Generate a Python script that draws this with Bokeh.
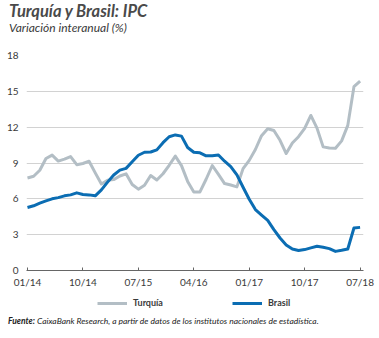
from bokeh.plotting import figure
from bokeh.layouts import column
from bokeh.models import (Range1d, FixedTicker, Legend, LegendItem, Div)
from bokeh.embed import file_html
from bokeh.resources import INLINE

# ---- data (monthly, 01/2014 .. 07/2018) ----
turquia = [7.75, 7.89, 8.39, 9.38, 9.66, 9.16, 9.32, 9.54, 8.86, 8.96, 9.15, 8.17,
           7.24, 7.55, 7.61, 7.91, 8.09, 7.20, 6.81, 7.14, 7.95, 7.58, 8.10, 8.81,
           9.58, 8.78, 7.46, 6.57, 6.58, 7.64, 8.79, 8.05, 7.28, 7.16, 7.00, 8.53,
           9.22, 10.13, 11.29, 11.87, 11.72, 10.90, 9.79, 10.68, 11.20, 11.90, 12.98, 11.92,
           10.35, 10.26, 10.23, 10.85, 12.15, 15.39, 15.85]
brasil = [5.28, 5.42, 5.64, 5.83, 6.00, 6.10, 6.25, 6.33, 6.50, 6.36, 6.33, 6.25,
          6.75, 7.40, 8.00, 8.40, 8.55, 9.10, 9.65, 9.90, 9.92, 10.10, 10.70, 11.20,
          11.35, 11.25, 10.30, 9.90, 9.85, 9.60, 9.60, 9.67, 9.15, 8.70, 8.00, 6.97,
          5.97, 5.10, 4.64, 4.20, 3.42, 2.72, 2.14, 1.80, 1.67, 1.75, 1.89, 2.03,
          1.94, 1.83, 1.60, 1.69, 1.80, 3.56, 3.61]
meses = list(range(len(turquia)))
x_ticks = [0, 9, 18, 27, 36, 45, 54]
x_tick_labels = ["01/14", "10/14", "07/15", "04/16", "01/17", "10/17", "07/18"]
y_ticks = [0, 3, 6, 9, 12, 15, 18]
series_names = ["Turquía", "Brasil"]

titulo = "Turquía y Brasil: IPC"
subtitulo = "Variación interanual (%)"
fuente_bold = "Fuente:"
fuente_text = "CaixaBank Research, a partir de datos de los institutos nacionales de estadística."

FONT = "Lato"
GRAY = "#b3bec5"
BLUE = "#0b6db3"
TXT = "#3a3a3a"

W = 379
TOP_H, MAIN_H, LEG_H, SRC_H = 45, 245, 22, 26
FL, FR = 26, 16
FRAME_TOP, FRAME_BOTTOM = 55, 271

# ---- header (title + subtitle) ----
header_html = (
    f'<div style="font-family:{FONT}; padding:1.85px 0 0 9px; margin:0;">'
    f'<div style="font-size:16.5px; line-height:1.1; height:18.15px; font-weight:bold; '
    f'font-style:italic; color:#4a4a4a; white-space:nowrap;">{titulo}</div>'
    f'<div style="font-size:12px; line-height:1; font-style:italic; color:#3a3a3a; '
    f'margin-top:2.2px; white-space:nowrap;">{subtitulo}</div></div>'
)
header = Div(text=header_html, width=W, height=TOP_H, margin=0, disable_math=True)

# ---- main chart ----
p = figure(width=W, height=MAIN_H, output_backend="svg", toolbar_location=None,
           x_range=Range1d(-0.16, 54.55), y_range=Range1d(0, 18),
           min_border_left=FL, min_border_right=FR,
           min_border_top=FRAME_TOP - TOP_H,
           min_border_bottom=TOP_H + MAIN_H - FRAME_BOTTOM)
p.outline_line_color = None
p.background_fill_color = "white"
p.border_fill_color = "white"

p.line(meses, turquia, line_color=GRAY, line_width=3, line_join="round")
p.line(meses, brasil, line_color=BLUE, line_width=3, line_join="round")

p.xaxis.ticker = FixedTicker(ticks=x_ticks)
p.xaxis.major_label_overrides = {t: l for t, l in zip(x_ticks, x_tick_labels)}
p.xaxis.axis_line_color = "#666666"
p.xaxis.axis_line_width = 1
p.xaxis.major_tick_line_color = "#666666"
p.xaxis.major_tick_in = 3
p.xaxis.major_tick_out = 0
p.xaxis.minor_tick_line_color = None
p.xaxis.major_label_standoff = 5
p.xaxis.major_label_text_font = FONT
p.xaxis.major_label_text_font_size = "10px"
p.xaxis.major_label_text_color = TXT

p.yaxis.ticker = FixedTicker(ticks=y_ticks)
p.yaxis.axis_line_color = None
p.yaxis.major_tick_line_color = None
p.yaxis.minor_tick_line_color = None
p.yaxis.major_tick_out = 0
p.yaxis.major_tick_in = 0
p.yaxis.major_label_standoff = 8
p.yaxis.major_label_text_font = FONT
p.yaxis.major_label_text_font_size = "10px"
p.yaxis.major_label_text_color = TXT

p.xgrid.grid_line_color = None
p.ygrid.ticker = FixedTicker(ticks=y_ticks[1:])
p.ygrid.grid_line_color = "#d2d2d2"
p.ygrid.grid_line_width = 1

# ---- legend strip (frame aligned with the chart frame) ----
y0 = TOP_H + MAIN_H
leg = figure(width=W, height=LEG_H, output_backend="svg", toolbar_location=None,
             x_axis_location=None, y_axis_location=None,
             x_range=Range1d(FL, W - FR), y_range=Range1d(y0 + LEG_H, y0),
             min_border_left=FL, min_border_right=FR, min_border_top=0, min_border_bottom=0)
leg.grid.visible = False
leg.outline_line_color = None
leg.background_fill_color = "white"
leg.border_fill_color = "white"
# off-screen renderers that only carry the legend styles
g1 = leg.line([-1000, -999], [0, 0], line_color=GRAY, line_width=3)
g2 = leg.line([-1000, -999], [0, 0], line_color=BLUE, line_width=3)
legend = Legend(items=[LegendItem(label=series_names[0], renderers=[g1]),
                       LegendItem(label=series_names[1], renderers=[g2])],
                orientation="horizontal", location=(97 - FL, (y0 + LEG_H) - 308),
                glyph_width=30, glyph_height=10, label_height=10, label_width=99,
                label_standoff=6, spacing=0, padding=0, margin=0,
                border_line_color=None, background_fill_alpha=0,
                label_text_font=FONT, label_text_font_size="9px",
                label_text_font_style="bold", label_text_color=TXT)
leg.add_layout(legend, "center")

# ---- source ----
src_html = (
    f'<div style="font-family:{FONT}; font-size:8.5px; line-height:1; color:#222222; '
    f'padding:3.5px 0 0 8px; margin:0; white-space:nowrap;">'
    f'<span style="font-weight:bold; font-style:italic;">{fuente_bold}</span> '
    f'<span style="font-style:italic;">{fuente_text}</span></div>'
)
source = Div(text=src_html, width=W, height=SRC_H, margin=0, disable_math=True)

layout = column(header, p, leg, source, spacing=0)
open("out.html", "w").write(file_html(layout, INLINE))
